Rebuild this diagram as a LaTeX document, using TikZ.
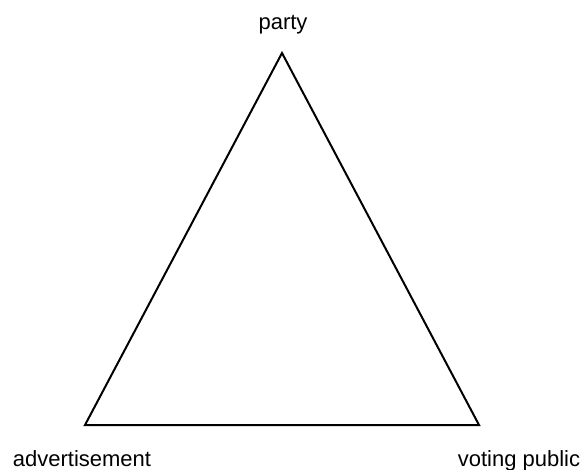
\documentclass[tikz,border=0pt]{standalone}
\usepackage{fontspec}
\setmainfont{Liberation Sans}
\usetikzlibrary{positioning}

\begin{document}
\begin{tikzpicture}[
x=1pt,y=-1pt,
label/.style={inner sep=0pt,anchor=base,font=\fontsize{22}{26}\selectfont},
side/.style={line width=2pt,line join=miter}
]
\useasboundingbox (0,0) rectangle (585,470);
\coordinate (party) at (282,53);
\coordinate (advert) at (85,425);
\coordinate (public) at (479,425);
\node[label] (partylabel) at (283,30) {party};
\node[label] (advertlabel) at (82,466) {advertisement};
\node[label] (publiclabel) at (519,466) {voting public};
\draw[side] (party) -- (public) -- (advert) -- cycle;
\end{tikzpicture}
\end{document}
